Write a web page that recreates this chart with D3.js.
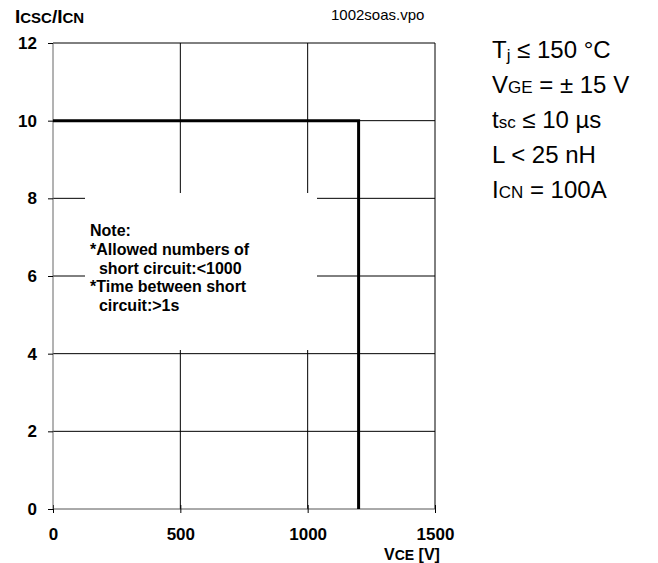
<!DOCTYPE html>
<html>
<head>
<meta charset="utf-8">
<script src="https://cdn.jsdelivr.net/npm/d3@7"></script>
<style>
  body { margin: 0; background: #fff; }
  svg { display: block; font-family: "Liberation Sans", Arial, sans-serif; }
</style>
</head>
<body>
<div id="chart"></div>
<script>
// SOA short-circuit limit: ICSC/ICN vs VCE
const X_TICKS = [0, 500, 1000, 1500]
const Y_TICKS = [0, 2, 4, 6, 8, 10, 12]
const LIMIT_VCE = [0, 1200, 1200]
const LIMIT_RATIO = [10, 10, 0]
const NOTE_LINES = ['Note:', '*Allowed numbers of', '  short circuit:<1000', '*Time between short', '  circuit:>1s']
const CONDITIONS = [
  [['T', ''], ['j', 'sub'], [' ≤ 150 °C', '']],
  [['V', ''], ['GE', 'sub'], [' = ± 15 V', '']],
  [['t', ''], ['sc', 'sub'], [' ≤ 10 µs', '']],
  [['L < 25 nH', '']],
  [['I', ''], ['CN', 'sub'], [' = 100A', '']]
]

const totalW = 658, totalH = 563
const margin = { top: 43, left: 53 }
const W = 382, H = 466
const FONT = '"Liberation Sans", Arial, sans-serif'

const svg = d3.select('#chart').append('svg')
  .attr('width', totalW).attr('height', totalH)

const g = svg.append('g').attr('transform', `translate(${margin.left},${margin.top})`)

const x = d3.scaleLinear().domain([0, 1500]).range([0, W])
const y = d3.scaleLinear().domain([0, 12]).range([H, 0])

// Grid
g.append('g')
  .selectAll('line')
  .data(X_TICKS.slice(1, -1))
  .enter().append('line')
  .attr('x1', d => x(d)).attr('x2', d => x(d))
  .attr('y1', 0).attr('y2', H)
  .attr('stroke', '#000').attr('stroke-width', 1)

g.append('g')
  .selectAll('line')
  .data(Y_TICKS.slice(1, -1))
  .enter().append('line')
  .attr('x1', 0).attr('x2', W)
  .attr('y1', d => y(d)).attr('y2', d => y(d))
  .attr('stroke', '#000').attr('stroke-width', 1)

// Frame top / right
g.append('line').attr('x1', 0).attr('x2', W).attr('y1', y(12)).attr('y2', y(12)).attr('stroke', '#000')
g.append('line').attr('x1', x(1500)).attr('x2', x(1500)).attr('y1', 0).attr('y2', H).attr('stroke', '#000')

// Note box (white, hides the grid)
g.append('rect')
  .attr('x', 32).attr('y', 150)
  .attr('width', 232).attr('height', 157)
  .attr('fill', '#fff')

g.append('g')
  .selectAll('text')
  .data(NOTE_LINES)
  .enter().append('text')
  .attr('x', 37)
  .attr('y', (d, i) => 193 + i * 18.8)
  .attr('font-size', 16).attr('font-weight', 'bold')
  .style('white-space', 'pre')
  .text(d => d)

// Axes
g.append('g')
  .attr('transform', `translate(0,${H})`)
  .call(d3.axisBottom(x).tickValues(X_TICKS).tickSize(4).tickPadding(15).tickFormat(d3.format('d')))
  .call(ax => ax.select('.domain').attr('stroke', '#555').attr('d', `M0,0H${W}`))
  .call(ax => ax.selectAll('.tick line').attr('y1', -4).attr('stroke', '#000'))
  .call(ax => ax.selectAll('text').attr('fill', '#000').attr('font-size', 17).attr('font-weight', 'bold')
    .attr('font-family', FONT))

g.append('g')
  .call(d3.axisLeft(y).tickValues(Y_TICKS).tickSize(5).tickPadding(11))
  .call(ax => ax.select('.domain').attr('stroke', '#666').attr('d', `M0,${H}V0`))
  .call(ax => ax.selectAll('.tick line').attr('stroke', '#000'))
  .call(ax => ax.selectAll('text').attr('fill', '#000').attr('font-size', 17).attr('font-weight', 'bold')
    .attr('font-family', FONT))

// Limit curve
const pts = LIMIT_VCE.map((v, i) => [v, LIMIT_RATIO[i]])
g.append('path')
  .datum(pts)
  .attr('fill', 'none')
  .attr('stroke', '#000').attr('stroke-width', 3)
  .attr('d', d3.line().x(d => x(d[0])).y(d => y(d[1])))

// Axis titles
const yTitle = svg.append('text').attr('x', 15).attr('y', 23)
  .attr('font-size', 19).attr('font-weight', 'bold')
yTitle.append('tspan').text('I')
yTitle.append('tspan').attr('font-size', 15).text('CSC')
yTitle.append('tspan').text('/I')
yTitle.append('tspan').attr('font-size', 15).text('CN')

const xTitle = svg.append('text').attr('x', 384).attr('y', 560)
  .attr('font-size', 16).attr('font-weight', 'bold')
xTitle.append('tspan').text('V')
xTitle.append('tspan').attr('font-size', 14).text('CE')
xTitle.append('tspan').text(' [V]')

svg.append('text').attr('x', 331).attr('y', 20)
  .attr('font-size', 15).text('1002soas.vpo')

// Test conditions
CONDITIONS.forEach((parts, i) => {
  const t = svg.append('text')
    .attr('x', 492).attr('y', 58 + i * 35)
    .attr('font-size', 24)
  parts.forEach(([s, kind], k) => {
    const lower = kind === 'sub' && s === 'j'
    t.append('tspan')
      .attr('font-size', kind === 'sub' ? 17 : 24)
      .attr('dy', lower ? 3 : (k > 0 && parts[k - 1][0] === 'j' ? -3 : 0))
      .text(s)
  })
})
</script>
</body>
</html>
